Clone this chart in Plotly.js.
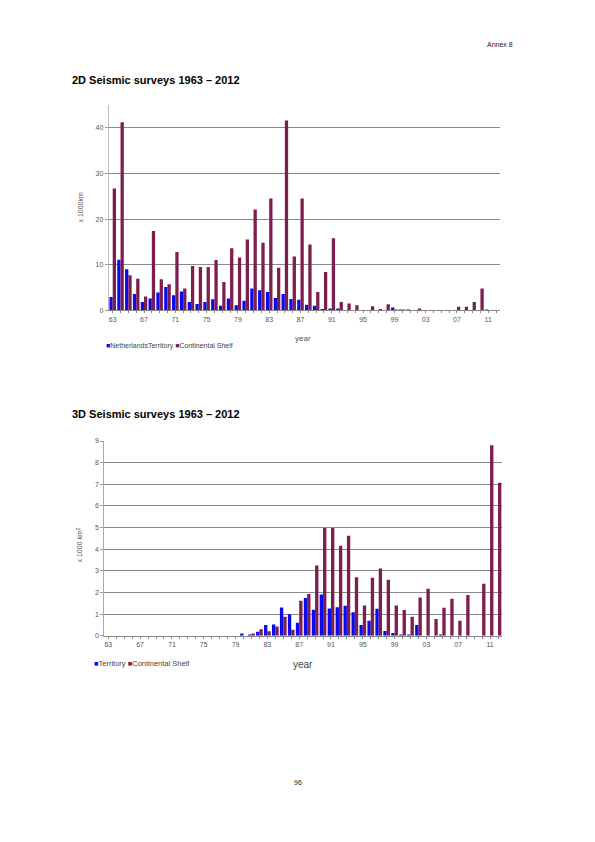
<!DOCTYPE html>
<html>
<head>
<meta charset="utf-8">
<script src="https://cdn.plot.ly/plotly-3.0.1.min.js"></script>
<style>
  html, body { margin: 0; padding: 0; background: #fff; }
  #chart { width: 595px; height: 842px; }
</style>
</head>
<body>
<div id="chart"></div>
<script>
// ---------- data ----------
var years = [1963,1964,1965,1966,1967,1968,1969,1970,1971,1972,
             1973,1974,1975,1976,1977,1978,1979,1980,1981,1982,
             1983,1984,1985,1986,1987,1988,1989,1990,1991,1992,
             1993,1994,1995,1996,1997,1998,1999,2000,2001,2002,
             2003,2004,2005,2006,2007,2008,2009,2010,2011,2012];

// 2D seismic surveys (x 1000 km)
var territory2D = [2.9,11.1,9.0,3.6,1.8,2.6,3.9,5.1,3.3,4.1,
                   1.8,1.4,1.8,2.4,1.0,2.6,1.1,2.1,4.8,4.4,
                   4.0,2.7,3.6,2.5,2.3,1.2,1.0,0.3,0.4,0.4,
                   0,0,0,0,0,0,0.6,0.2,0.2,0,
                   0,0,0,0,0,0,0,0,0.2,0];
var shelf2D = [26.7,41.2,7.7,6.9,3.0,17.4,6.8,5.7,12.8,4.8,
               9.7,9.5,9.5,11.0,6.2,13.6,11.6,15.5,22.1,14.8,
               24.5,9.3,41.6,11.8,24.5,14.4,4.0,8.4,15.8,1.8,
               1.5,1.1,0,0.9,0.3,1.3,0.2,0.2,0,0.4,
               0,0,0,0,0.8,0.8,1.8,4.8,0,0];

// 3D seismic surveys (x 1000 km2)
var territory3D = [0,0,0,0,0,0,0,0,0,0,
                   0,0,0,0,0,0,0,0.1,0.05,0.18,
                   0.5,0.52,1.3,0.99,0.6,1.74,1.2,1.9,1.26,1.31,
                   1.39,1.08,0.49,0.69,1.25,0.22,0.12,0.05,0.05,0.5,
                   0,0,0.05,0,0,0,0,0,0,0];
var shelf3D = [0,0,0,0,0,0,0,0,0,0,
               0,0,0,0,0,0,0,0,0.1,0.3,
               0.2,0.42,0.88,0.27,1.62,1.93,3.25,4.98,4.98,4.16,
               4.62,2.7,1.4,2.68,3.11,2.59,1.4,1.19,0.88,1.77,
               2.17,0.77,1.29,1.71,0.69,1.88,0,2.4,8.8,7.07];

var labelYears = [1963,1967,1971,1975,1979,1983,1987,1991,1995,1999,2003,2007,2011];
var labelTexts = ['63','67','71','75','79','83','87','91','95','99','03','07','11'];

var seriesNames2D = ['NetherlandsTerritory','Continental Shelf'];
var seriesNames3D = ['Territory','Continental Shelf'];

// ---------- styling ----------
var BLUE = '#0a0af0';
var MAROON = '#7c1f4f';
var FONT = 'Liberation Sans, Arial, Helvetica, sans-serif';
var W = 595, H = 842;
function px(x) { return x / W; }
function py(y) { return 1 - y / H; }

var tickText = years.map(function (y) {
  var i = labelYears.indexOf(y);
  return i >= 0 ? labelTexts[i] : '';
});

var traces = [
  { type: 'bar', x: years, y: territory2D, name: seriesNames2D[0],
    marker: { color: BLUE }, xaxis: 'x', yaxis: 'y', showlegend: false },
  { type: 'bar', x: years, y: shelf2D, name: seriesNames2D[1],
    marker: { color: MAROON }, xaxis: 'x', yaxis: 'y', showlegend: false },
  { type: 'bar', x: years, y: territory3D, name: seriesNames3D[0],
    marker: { color: BLUE }, xaxis: 'x2', yaxis: 'y2', showlegend: false },
  { type: 'bar', x: years, y: shelf3D, name: seriesNames3D[1],
    marker: { color: MAROON }, xaxis: 'x2', yaxis: 'y2', showlegend: false }
];

var xCommon = {
  range: [1962.5, 2012.5],
  tickmode: 'array', tickvals: years, ticktext: tickText,
  ticks: 'outside', ticklen: 2, tickcolor: '#888', tickwidth: 1,
  showline: true, linecolor: '#888', linewidth: 1,
  showgrid: false, zeroline: false,
  tickfont: { family: FONT, size: 7, color: '#555' }
};
function clone(o) { return JSON.parse(JSON.stringify(o)); }

var xa1 = clone(xCommon); xa1.domain = [px(108.8), px(500)]; xa1.anchor = 'y';
var xa2 = clone(xCommon); xa2.domain = [px(104.3), px(502)]; xa2.anchor = 'y2';

var layout = {
  width: W, height: H,
  margin: { l: 0, r: 0, t: 0, b: 0 },
  paper_bgcolor: '#fff', plot_bgcolor: '#fff',
  barmode: 'group', bargap: 0.16, bargroupgap: 0,
  showlegend: false,
  font: { family: FONT },
  xaxis: xa1,
  yaxis: {
    domain: [py(310.3), py(105)], anchor: 'x',
    range: [0, 45], tickmode: 'array', tickvals: [0,10,20,30,40],
    ticks: 'outside', ticklen: 3, tickcolor: '#999',
    showline: true, linecolor: '#bbb', linewidth: 1,
    showgrid: true, gridcolor: '#8a8a8a', gridwidth: 1,
    zeroline: false,
    tickfont: { family: FONT, size: 7, color: '#555' }
  },
  xaxis2: xa2,
  yaxis2: {
    domain: [py(635.7), py(441)], anchor: 'x2',
    range: [0, 9], dtick: 1,
    ticks: 'outside', ticklen: 3, tickcolor: '#999',
    showline: true, linecolor: '#aaa', linewidth: 1,
    showgrid: true, gridcolor: '#8a8a8a', gridwidth: 1,
    zeroline: false,
    tickfont: { family: FONT, size: 7, color: '#555' }
  },
  annotations: [
    { text: 'Annex 8', x: px(514.5), y: py(44.7), xref: 'paper', yref: 'paper',
      xanchor: 'right', yanchor: 'middle', showarrow: false,
      font: { family: FONT, size: 7, color: '#222' } },
    { text: '<b>2D Seismic surveys 1963 – 2012</b>', x: px(70), y: py(80), xref: 'paper', yref: 'paper',
      xanchor: 'left', yanchor: 'middle', showarrow: false,
      font: { family: FONT, size: 11, color: '#000' } },
    { text: '<b>3D Seismic surveys 1963 – 2012</b>', x: px(70), y: py(414), xref: 'paper', yref: 'paper',
      xanchor: 'left', yanchor: 'middle', showarrow: false,
      font: { family: FONT, size: 11, color: '#000' } },
    { text: 'x 1000km', x: px(80), y: py(207.5), xref: 'paper', yref: 'paper',
      xanchor: 'center', yanchor: 'middle', textangle: -90, showarrow: false,
      font: { family: FONT, size: 7, color: '#555' } },
    { text: 'x 1000 km<sup>2</sup>', x: px(79.5), y: py(545), xref: 'paper', yref: 'paper',
      xanchor: 'center', yanchor: 'middle', textangle: -90, showarrow: false,
      font: { family: FONT, size: 7, color: '#555' } },
    { text: 'year', x: px(302.5), y: py(338), xref: 'paper', yref: 'paper',
      xanchor: 'center', yanchor: 'middle', showarrow: false,
      font: { family: FONT, size: 8, color: '#555' } },
    { text: 'year', x: px(302.5), y: py(664), xref: 'paper', yref: 'paper',
      xanchor: 'center', yanchor: 'middle', showarrow: false,
      font: { family: FONT, size: 10, color: '#444' } },
    { text: '<span style="color:' + BLUE + '">■</span>' + seriesNames2D[0] +
            ' <span style="color:' + MAROON + '">■</span>' + seriesNames2D[1],
      x: px(103.5), y: py(346), xref: 'paper', yref: 'paper',
      xanchor: 'left', yanchor: 'middle', showarrow: false,
      font: { family: FONT, size: 7, color: '#444' } },
    { text: '<span style="color:' + BLUE + '">■</span>' + seriesNames3D[0] +
            ' <span style="color:' + MAROON + '">■</span>' + seriesNames3D[1],
      x: px(91.5), y: py(663), xref: 'paper', yref: 'paper',
      xanchor: 'left', yanchor: 'middle', showarrow: false,
      font: { family: FONT, size: 7.5, color: '#444' } },
    { text: '96', x: px(297.5), y: py(782), xref: 'paper', yref: 'paper',
      xanchor: 'center', yanchor: 'middle', showarrow: false,
      font: { family: FONT, size: 7, color: '#222' } }
  ]
};

Plotly.newPlot('chart', traces, layout, { staticPlot: true, displayModeBar: false });
</script>
</body>
</html>
